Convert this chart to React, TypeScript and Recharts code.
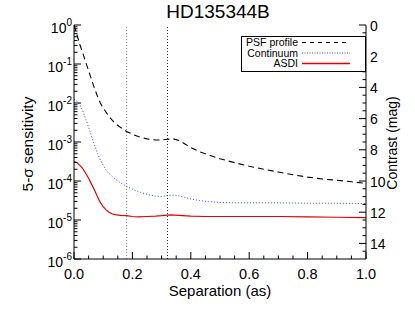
import { LineChart, Line, XAxis, YAxis, ReferenceLine } from "recharts";

// separation (arcsec) and log10 of the 5-sigma sensitivity
const psfSep = [0, 0.01, 0.02, 0.03, 0.04, 0.05, 0.06, 0.07, 0.08, 0.09, 0.1, 0.12, 0.14, 0.16, 0.18, 0.2, 0.22, 0.25, 0.28, 0.3, 0.32, 0.34, 0.36, 0.38, 0.4, 0.43, 0.46, 0.5, 0.55, 0.6, 0.65, 0.7, 0.75, 0.8, 0.85, 0.9, 0.95, 1.0];
const psfLog = [0, -0.25, -0.5, -0.72, -0.95, -1.17, -1.4, -1.62, -1.82, -2.0, -2.13, -2.35, -2.52, -2.63, -2.73, -2.8, -2.86, -2.92, -2.95, -2.95, -2.93, -2.92, -2.96, -3.05, -3.14, -3.25, -3.33, -3.43, -3.53, -3.62, -3.7, -3.77, -3.84, -3.9, -3.95, -3.98, -4.02, -4.06];

const contSep = [0, 0.01, 0.02, 0.03, 0.04, 0.05, 0.06, 0.07, 0.08, 0.09, 0.1, 0.11, 0.12, 0.13, 0.14, 0.16, 0.18, 0.2, 0.22, 0.24, 0.26, 0.28, 0.3, 0.32, 0.34, 0.36, 0.38, 0.4, 0.43, 0.46, 0.5, 0.55, 0.6, 0.7, 0.8, 0.9, 1.0];
const contLog = [-1.9, -1.95, -2.05, -2.2, -2.4, -2.62, -2.85, -3.07, -3.28, -3.46, -3.6, -3.72, -3.81, -3.88, -3.94, -4.05, -4.14, -4.21, -4.27, -4.32, -4.36, -4.39, -4.4, -4.37, -4.36, -4.38, -4.42, -4.46, -4.5, -4.53, -4.55, -4.56, -4.56, -4.56, -4.57, -4.57, -4.58];

const asdiSep = [0, 0.01, 0.02, 0.03, 0.04, 0.05, 0.06, 0.07, 0.08, 0.09, 0.1, 0.11, 0.12, 0.13, 0.14, 0.16, 0.18, 0.2, 0.22, 0.25, 0.28, 0.3, 0.33, 0.36, 0.4, 0.45, 0.5, 0.6, 0.7, 0.8, 0.9, 1.0];
const asdiLog = [-3.5, -3.53, -3.6, -3.68, -3.8, -3.93, -4.08, -4.23, -4.4, -4.55, -4.66, -4.74, -4.8, -4.84, -4.86, -4.88, -4.89, -4.91, -4.92, -4.91, -4.9, -4.89, -4.87, -4.88, -4.9, -4.91, -4.91, -4.91, -4.91, -4.92, -4.93, -4.94];

const xTicks = [0, 0.05, 0.1, 0.15, 0.2, 0.25, 0.3, 0.35, 0.4, 0.45, 0.5, 0.55, 0.6, 0.65, 0.7, 0.75, 0.8, 0.85, 0.9, 0.95, 1.0];
const decades = [-6, -5, -4, -3, -2, -1];
const magTicks = [0, 0.5, 1, 1.5, 2, 2.5, 3, 3.5, 4, 4.5, 5, 5.5, 6, 6.5, 7, 7.5, 8, 8.5, 9, 9.5, 10, 10.5, 11, 11.5, 12, 12.5, 13, 13.5, 14, 14.5];
const markers = [0.18, 0.32];

const sensTicks: number[] = [];
decades.forEach((d) => {
  for (let k = 1; k < 10; k++) sensTicks.push(k * Math.pow(10, d));
});
sensTicks.push(1);

const toData = (sep: number[], lg: number[]) =>
  sep.map((s, i) => ({ sep: s, v: Math.pow(10, lg[i]) }));

const psfData = toData(psfSep, psfLog);
const contData = toData(contSep, contLog);
const asdiData = toData(asdiSep, asdiLog);

const FONT = '"Liberation Sans", Arial, Helvetica, sans-serif';
const BLUE = "#3a3aff";
const RED = "#e60000";

const LeftTick = (props: any) => {
  const { x, y, payload } = props;
  const e = Math.log10(payload.value);
  const major = Math.abs(e - Math.round(e)) < 1e-6;
  return (
    <g>
      <line x1={x} x2={x + (major ? 7 : 3.5)} y1={y} y2={y} stroke="#000" />
      {major && (
        <text x={x - 2} y={y + 8} textAnchor="end" fontSize={14} fontFamily={FONT} fill="#000">
          10<tspan dy={-7} fontSize={10}>{Math.round(e)}</tspan>
        </text>
      )}
    </g>
  );
};

const RightTick = (props: any) => {
  const { x, y, payload } = props;
  const m = payload.value;
  const major = m % 2 === 0;
  return (
    <g>
      <line x1={x} x2={x - (major ? 7 : 3.5)} y1={y} y2={y} stroke="#000" />
      {major && (
        <text x={x + 4} y={y + 5.5} fontSize={14} fontFamily={FONT} fill="#000">
          {m}
        </text>
      )}
    </g>
  );
};

const isMajorX = (v: number) => Math.abs(v * 5 - Math.round(v * 5)) < 1e-6;

const BottomTick = (props: any) => {
  const { x, y, payload } = props;
  const major = isMajorX(payload.value);
  return (
    <g>
      <line x1={x} x2={x} y1={y} y2={y - (major ? 7 : 3.5)} stroke="#000" />
      {major && (
        <text x={x} y={y + 20} textAnchor="middle" fontSize={14.5} fontFamily={FONT} fill="#000">
          {payload.value.toFixed(1)}
        </text>
      )}
    </g>
  );
};

const TopTick = (props: any) => {
  const { x, y, payload } = props;
  const major = isMajorX(payload.value);
  return <line x1={x} x2={x} y1={y} y2={y + (major ? 7 : 3.5)} stroke="#000" />;
};

const legendRows = [
  { name: "PSF profile", color: "#000", dash: "4 4", width: 1.2, y: 46 },
  { name: "Continuum", color: BLUE, dash: "1 1.5", width: 1, y: 56.5 },
  { name: "ASDI", color: RED, dash: "none", width: 1.3, y: 67 },
];

export default function App() {
  return (
    <div style={{ position: "absolute", left: 0, top: 0, width: 415, height: 312, background: "#fff" }}>
      <LineChart width={415} height={312} margin={{ top: 25, right: 0, bottom: 0, left: 0 }}>
        <XAxis xAxisId="b" dataKey="sep" type="number" domain={[0, 1]} ticks={xTicks} interval={0}
          height={53} tickSize={0} tickMargin={0} tickLine={false} tick={BottomTick}
          axisLine={{ stroke: "#000" }} allowDataOverflow />
        <XAxis xAxisId="t" orientation="top" dataKey="sep" type="number" domain={[0, 1]} ticks={xTicks} interval={0}
          height={0} tickSize={0} tickMargin={0} tickLine={false} tick={TopTick}
          axisLine={{ stroke: "#000" }} allowDataOverflow />
        <YAxis yAxisId="s" type="number" scale="log" domain={[1e-6, 1]} ticks={sensTicks} interval={0}
          width={74} tickSize={0} tickMargin={0} tickLine={false} tick={LeftTick}
          axisLine={{ stroke: "#000" }} allowDataOverflow />
        <YAxis yAxisId="m" orientation="right" type="number" domain={[0, 15]} reversed ticks={magTicks} interval={0}
          width={49} tickSize={0} tickMargin={0} tickLine={false} tick={RightTick}
          axisLine={{ stroke: "#000" }} allowDataOverflow />
        {markers.map((m, i) => (
          <ReferenceLine key={m} xAxisId="b" yAxisId="s" x={m}
            stroke={i === 0 ? "#888" : "#222"} strokeDasharray="1 2" />
        ))}
        <Line xAxisId="b" yAxisId="s" data={psfData} dataKey="v" type="linear" dot={false}
          stroke="#000" strokeWidth={1.1} strokeDasharray="6 4" isAnimationActive={false} />
        <Line xAxisId="b" yAxisId="s" data={contData} dataKey="v" type="linear" dot={false}
          stroke={BLUE} strokeWidth={1} strokeDasharray="1 2" isAnimationActive={false} />
        <Line xAxisId="b" yAxisId="s" data={asdiData} dataKey="v" type="linear" dot={false}
          stroke={RED} strokeWidth={1.2} isAnimationActive={false} />
        <Line xAxisId="t" yAxisId="m" data={[{ sep: 0, mag: 0 }, { sep: 1, mag: 15 }]} dataKey="mag"
          stroke="none" dot={false} legendType="none" isAnimationActive={false} />
      </LineChart>
      <svg width={415} height={312} style={{ position: "absolute", left: 0, top: 0, pointerEvents: "none" }}
        fontFamily={FONT}>
        <text x={218} y={18} textAnchor="middle" fontSize={19}>HD135344B</text>
        <text x={220} y={296} textAnchor="middle" fontSize={15}>Separation (as)</text>
        <text transform="translate(33,144) rotate(-90)" textAnchor="middle" fontSize={15.5}>5-σ sensitivity</text>
        <text transform="translate(397,143) rotate(-90)" textAnchor="middle" fontSize={14}>Contrast (mag)</text>
        <rect x={241.5} y={36.5} width={124} height={35} fill="#fff" stroke="#000" />
        {legendRows.map((r) => (
          <g key={r.name}>
            <text x={298} y={r.y} textAnchor="end" fontSize={10.5}>{r.name}</text>
            <line x1={302} x2={350} y1={r.y - 3.5} y2={r.y - 3.5} style={{ stroke: r.color }}
              strokeWidth={r.width} strokeDasharray={r.dash} />
          </g>
        ))}
      </svg>
    </div>
  );
}
